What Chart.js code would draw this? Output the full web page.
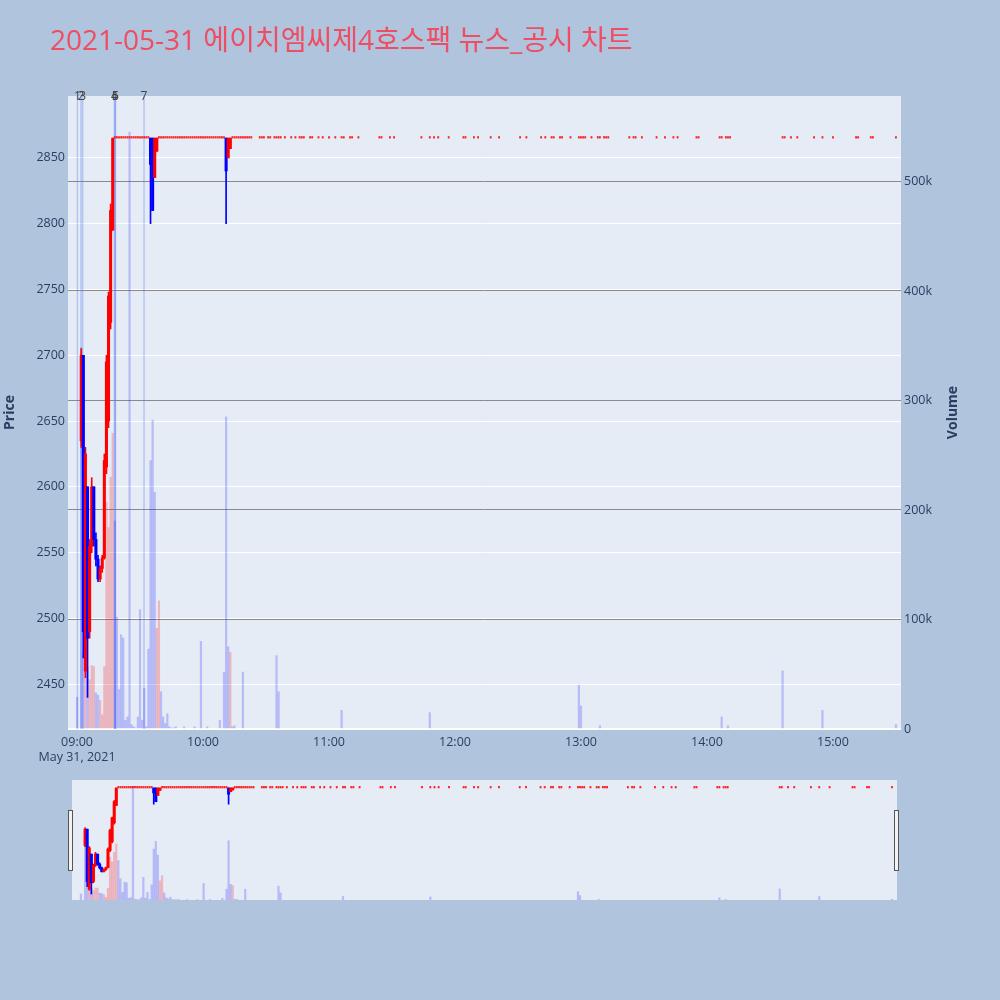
<!DOCTYPE html>
<html><head><meta charset="utf-8">
<script src="https://cdn.jsdelivr.net/npm/chart.js@4.4.0/dist/chart.umd.min.js"></script>
<style>
html,body{margin:0;padding:0;background:#B0C4DE;width:1000px;height:1000px;overflow:hidden;}
#main{position:absolute;left:0;top:0;}
#slider{position:absolute;left:72px;top:780px;}
.handle{position:absolute;top:810px;width:3px;height:59px;background:#f2f2f2;border:1px solid #555;}
</style></head><body>
<canvas id="main" width="1000" height="780"></canvas>
<canvas id="slider" width="825" height="120"></canvas>
<div class="handle" style="left:68px"></div>
<div class="handle" style="left:894px"></div>
<script>
const TITLE = '2021-05-31 에이치엠씨제4호스팩 뉴스_공시 차트';
const DATE_LABEL = 'May 31, 2021';

// minutes after 09:00
const candleMinutes = [2,3,4,5,6,7,8,9,10,11,12,13,14,15,16,17,35,36,37,38,71,72,73];
const opens  = [2635,2700,2460,2600,2490,2555,2600,2560,2545,2530,2538,2546,2615,2650,2725,2795,2865,2865,2835,2855,2865,2850,2857];
const highs  = [2705,2700,2630,2600,2560,2607,2600,2565,2548,2540,2548,2625,2700,2748,2815,2865,2865,2865,2865,2865,2865,2865,2865];
const lows   = [2630,2470,2455,2440,2485,2550,2555,2540,2528,2528,2535,2545,2610,2645,2720,2795,2800,2810,2835,2855,2800,2850,2857];
const closes = [2700,2490,2625,2485,2555,2600,2560,2545,2530,2538,2546,2620,2695,2745,2810,2865,2845,2810,2865,2865,2840,2865,2865];

// minutes that traded only at the upper-limit price
const flatPrice = 2865;
const flatMinutes = [18,19,20,21,22,23,24,25,26,27,28,29,30,31,32,33,34,
  39,40,41,42,43,44,45,46,47,48,49,50,51,52,53,54,55,56,57,58,59,60,61,62,63,64,65,66,67,68,69,70,
  74,75,76,77,78,79,80,81,82,83,87,88,89,91,92,94,95,96,97,99,102,104,106,107,108,111,112,115,117,120,123,
  126,127,130,131,134,144,145,149,151,164,168,170,172,177,184,185,189,191,197,201,211,214,221,223,226,227,
  230,231,235,239,240,241,242,245,248,249,251,252,253,263,265,266,269,276,280,284,286,295,296,306,307,309,
  310,311,336,337,340,343,351,355,360,371,372,378,379,390];

const volMinutes = [0,2,3,4,5,6,7,8,9,10,11,12,13,14,15,16,17,18,19,20,21,22,23,24,25,26,27,28,29,30,
  31,32,33,34,35,36,37,38,39,40,41,42,43,44,45,46,47,51,56,59,62,68,70,71,72,73,74,75,79,
  95,96,126,168,239,240,249,307,310,336,355,390];
const volumes = [29000,348000,70000,58000,57000,45000,58000,57000,33000,31000,26000,13000,57000,207000,184000,230000,270000,190000,102000,36000,
  86000,83000,8000,11000,545000,4000,2000,1000,11000,109000,8000,37000,2000,73000,245000,282000,216000,92000,117000,34000,
  11000,5000,14000,2000,1000,1000,2000,2000,2000,80000,2000,8000,52000,285000,75000,70000,2000,3000,52000,
  67000,34000,17000,15000,40000,21000,3000,11000,3000,53000,17000,4000];
const volUp = [0,0,0,1,0,1,1,1,0,0,1,1,1,1,1,1,1,0,0,0,0,0,0,0,0,0,0,0,0,0,
  0,0,0,0,0,0,0,1,1,0,0,0,0,0,0,0,0,0,0,0,0,0,0,0,0,1,0,0,0,
  0,0,0,0,0,0,0,0,0,0,0,0];

const newsMinutes = [0.2,1.9,2.7,17.8,18.2,18.3,31.9];
const newsLabels = ['1','2','3','4','5','6','7'];

const timeTicks = [0,60,120,180,240,300,360];
const priceTicks = [2450,2500,2550,2600,2650,2700,2750,2800,2850];
const volumeTicks = [0,100000,200000,300000,400000,500000];
const X_RANGE = [-4.3, 392.4];
const PRICE_RANGE = [2416, 2897];
const VOLUME_RANGE = [0, 578000];

const FONT = "'Open Sans', 'Noto Sans CJK KR', sans-serif";
const AXIS_COLOR = '#2a3f5f';
const RED = '#FF0000', BLUE = '#0000FF';

function toHHMM(m){ const t = 540 + Math.round(m); return String(Math.floor(t/60)).padStart(2,'0') + ':' + String(t%60).padStart(2,'0'); }

const bodyData = candleMinutes.map((m,i)=>({x:m, y:[opens[i], closes[i]]}));
const wickData = candleMinutes.map((m,i)=>({x:m, y:[lows[i], highs[i]]}));
const candleColors = candleMinutes.map((m,i)=> closes[i] >= opens[i] ? RED : BLUE);
const flatData = flatMinutes.map(m=>({x:m, y:[flatPrice, flatPrice]}));
const volData = volMinutes.map((m,i)=>({x:m, y:volumes[i]}));
const volColors = volUp.map(u=> u ? 'rgba(255,0,0,0.22)' : 'rgba(0,0,255,0.2)');

function datasets(){
  return [
    {type:'bar', data: bodyData, yAxisID:'y', backgroundColor: candleColors, barThickness: 2.4, minBarLength: 2, grouped:false, order:1},
    {type:'bar', data: flatData, yAxisID:'y', backgroundColor: 'rgba(255,0,0,0.85)', barThickness: 1.2, minBarLength: 1.6, grouped:false, order:2},
    {type:'bar', data: wickData, yAxisID:'y', backgroundColor: candleColors, barThickness: 1, minBarLength: 1, grouped:false, order:3},
    {type:'bar', data: volData, yAxisID:'yv', backgroundColor: volColors, barThickness: 1.6, grouped:false, order:4}
  ];
}

const bgPlugin = {
  id:'bg',
  beforeDraw(chart){
    const a = chart.chartArea, c = chart.ctx;
    c.save(); c.fillStyle = '#E5ECF6'; c.fillRect(a.left, a.top, a.right-a.left, a.bottom-a.top); c.restore();
  }
};

const newsPlugin = {
  id:'news',
  beforeDatasetsDraw(chart){
    const a = chart.chartArea, c = chart.ctx, xs = chart.scales.x;
    c.save(); c.strokeStyle = 'rgba(90,120,240,0.35)'; c.lineWidth = 1.5;
    newsMinutes.forEach(m=>{ const x = xs.getPixelForValue(m); c.beginPath(); c.moveTo(x, a.top); c.lineTo(x, a.bottom); c.stroke(); });
    c.restore();
  },
  afterDraw(chart){
    const a = chart.chartArea, c = chart.ctx, xs = chart.scales.x;
    c.save(); c.fillStyle = '#444'; c.font = '12px ' + FONT; c.textAlign = 'center'; c.textBaseline = 'middle';
    newsMinutes.forEach((m,i)=>{ c.fillText(newsLabels[i], xs.getPixelForValue(m), a.top + 1); });
    c.fillStyle = 'rgb(238,77,98)'; c.font = '28px ' + FONT; c.textAlign = 'left'; c.textBaseline = 'alphabetic';
    c.fillText(TITLE, 50, 50);
    // right axis title, reading bottom-to-top
    c.translate(953, (a.top + a.bottom) / 2);
    c.rotate(-Math.PI / 2);
    c.fillStyle = AXIS_COLOR; c.font = 'bold 14px ' + FONT; c.textAlign = 'center'; c.textBaseline = 'middle';
    c.fillText('Volume', 0, 0);
    c.restore();
  }
};

Chart.defaults.animation = false;

new Chart(document.getElementById('main'), {
  type:'bar',
  data:{ datasets: datasets() },
  plugins:[bgPlugin, newsPlugin],
  options:{
    responsive:false, devicePixelRatio:1, events:[],
    layout:{ padding:{ top:96, right:37, left:0, bottom:0 } },
    plugins:{ legend:{display:false}, tooltip:{enabled:false} },
    scales:{
      x:{ type:'linear', min:X_RANGE[0], max:X_RANGE[1], offset:false,
        grid:{ display:false, drawTicks:false }, border:{ display:false },
        afterBuildTicks: s=>{ s.ticks = timeTicks.map(v=>({value:v})); },
        ticks:{ autoSkip:false, maxRotation:0, padding:6, color:AXIS_COLOR, font:{family:FONT, size:12.5},
          callback:(v)=> v === 0 ? [toHHMM(v), DATE_LABEL] : toHHMM(v) },
        afterFit: s=>{ s.height = 51; } },
      y:{ type:'linear', position:'left', min:PRICE_RANGE[0], max:PRICE_RANGE[1],
        grid:{ color:'#ffffff', lineWidth:1, drawTicks:false }, border:{ display:false },
        afterBuildTicks: s=>{ s.ticks = priceTicks.map(v=>({value:v})); },
        ticks:{ padding:3, color:AXIS_COLOR, font:{family:FONT, size:12.5}, callback:(v)=> String(v) },
        title:{ display:true, text:'Price', color:AXIS_COLOR, font:{family:FONT, size:14, weight:'bold'}, padding:{top:2, bottom:0} },
        afterFit: s=>{ s.width = 68; } },
      yv:{ type:'linear', position:'right', min:VOLUME_RANGE[0], max:VOLUME_RANGE[1],
        grid:{ color: ctx=> ctx.tick && ctx.tick.value === 0 ? '#ffffff' : '#8a8a8a', lineWidth: ctx=> ctx.tick && ctx.tick.value === 0 ? 2 : 1, drawTicks:false }, border:{ display:false },
        afterBuildTicks: s=>{ s.ticks = volumeTicks.map(v=>({value:v})); },
        ticks:{ padding:3, color:AXIS_COLOR, font:{family:FONT, size:12.5}, callback:(v)=> v === 0 ? '0' : (v/1000) + 'k' },
        afterFit: s=>{ s.width = 62; } }
    }
  }
});

new Chart(document.getElementById('slider'), {
  type:'bar',
  data:{ datasets: datasets() },
  plugins:[bgPlugin],
  options:{
    responsive:false, devicePixelRatio:1, events:[],
    layout:{ padding:0 },
    plugins:{ legend:{display:false}, tooltip:{enabled:false} },
    scales:{
      x:{ type:'linear', display:false, min:X_RANGE[0], max:X_RANGE[1], offset:false },
      y:{ type:'linear', display:false, min:PRICE_RANGE[0], max:PRICE_RANGE[1] },
      yv:{ type:'linear', display:false, min:VOLUME_RANGE[0], max:VOLUME_RANGE[1] }
    }
  }
});
</script>
</body></html>
